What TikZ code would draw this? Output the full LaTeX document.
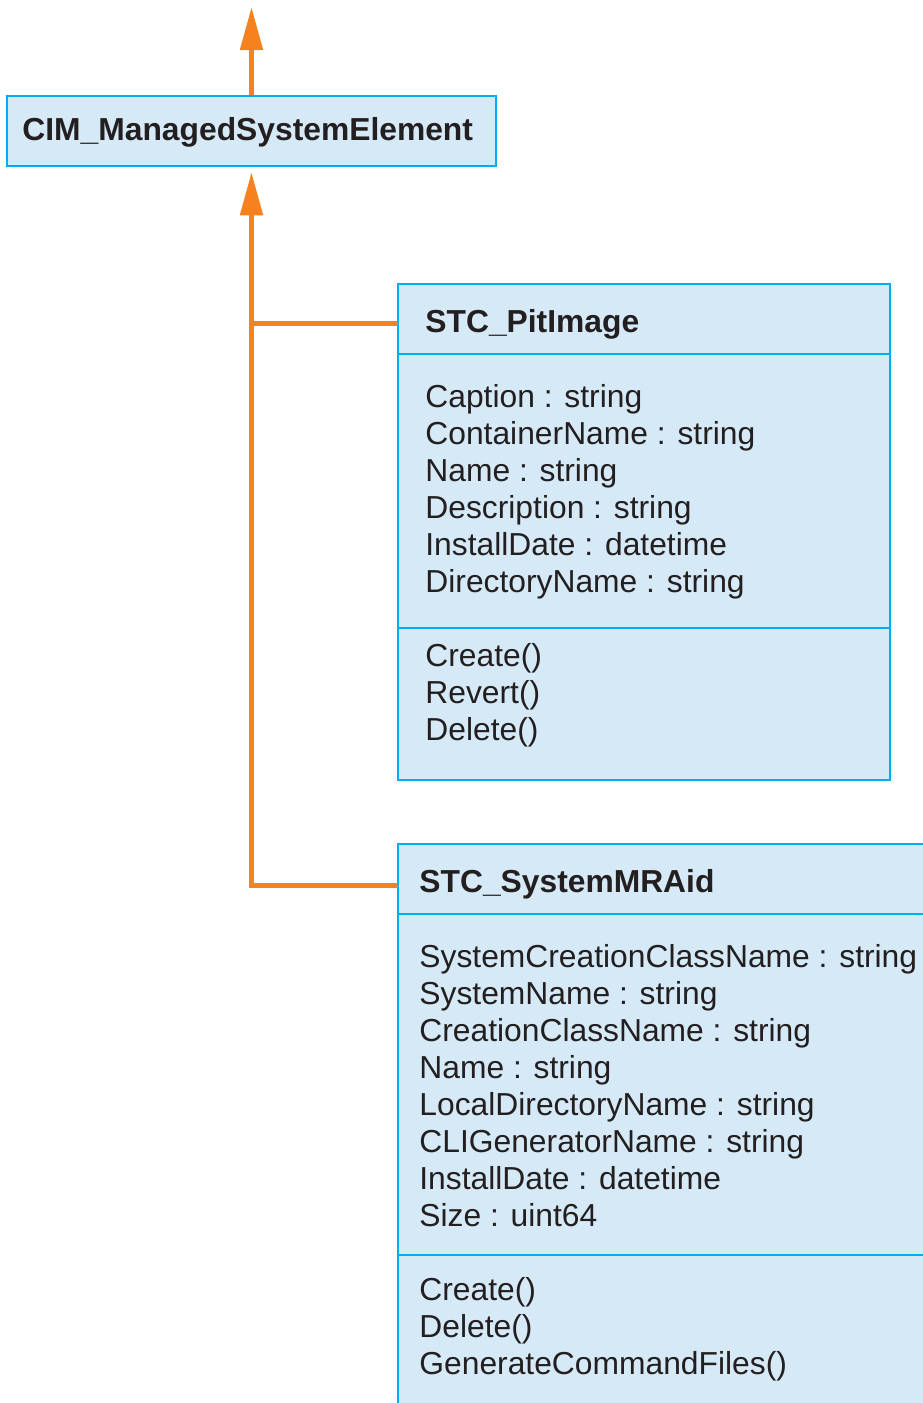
\documentclass[tikz,border=0pt]{standalone}
\usepackage{fontspec}
\setmainfont{Liberation Sans}
\usepackage{tikz}
\usetikzlibrary{positioning,arrows.meta}

\definecolor{umlorange}{HTML}{F5821F}
\definecolor{umlcyan}{HTML}{00AEEF}
\definecolor{umlfill}{HTML}{D6E9F6}
\definecolor{umltext}{HTML}{231F20}

\begin{document}
\begin{tikzpicture}[x=0.5pt, y=-0.5pt,
	cls/.style= {draw=umlcyan, fill=umlfill, line width=1.25pt, inner sep=0pt},
	divider/.style= {draw=umlcyan, line width=1.25pt},
	gen/.style= {draw=umlorange, line width=2.5pt, -{Triangle[length=21.5pt, width=11pt]}},
	link/.style= {draw=umlorange, line width=2.5pt},
	title/.style= {font=\fontsize{15.9}{18.5}\selectfont\bfseries, text=umltext, inner sep=0pt, anchor=base west},
	member/.style= {font=\fontsize{15.9}{18.5}\selectfont, text=umltext, inner sep=0pt, anchor=base west}]
		\useasboundingbox (0,0) rectangle (922,1403);

		% classes
		\node[cls, minimum width=244.5pt, minimum height=35pt] (cim) at (251.5,131) {};
		\node[cls, minimum width=246pt, minimum height=248pt] (pit) at (644,532) {};
		\node[cls, minimum width=281pt, minimum height=303pt] (mr) at (679,1147) {};

		\draw[divider] (pit.west |- 0,354) -- (pit.east |- 0,354);
		\draw[divider] (pit.west |- 0,628) -- (pit.east |- 0,628);
		\draw[divider] (mr.west |- 0,914) -- (mr.east |- 0,914);
		\draw[divider] (mr.west |- 0,1255) -- (mr.east |- 0,1255);

		% titles
		\node[title] (cimname) at (22,140) {CIM\_ManagedSystemElement};
		\node[title] (pitname) at (425,332) {STC\_PitImage};
		\node[title] (mrname) at (419,892) {STC\_SystemMRAid};

		% members
		\foreach \t [count=\i from 0] in {Caption : string, ContainerName : string, Name : string, Description : string, InstallDate : datetime, DirectoryName : string}
			\node[member] (pa\i) at (425,407+37*\i) {\t};
		\foreach \t [count=\i from 0] in {Create(), Revert(), Delete()}
			\node[member] (pm\i) at (425,666+37*\i) {\t};
		\foreach \t [count=\i from 0] in {SystemCreationClassName : string, SystemName : string, CreationClassName : string, Name : string, LocalDirectoryName : string, CLIGeneratorName : string, InstallDate : datetime, Size : uint64}
			\node[member] (ma\i) at (419,967+37*\i) {\t};
		\foreach \t [count=\i from 0] in {Create(), Delete(), GenerateCommandFiles()}
			\node[member] (mm\i) at (419,1300+37*\i) {\t};

		% inheritance
		\coordinate (top) at (251.5,7);
		\coordinate (pj) at (398,323);
		\coordinate (mj) at (398,885);

		\draw[gen] (cim.north) -- (top);
		\draw[gen, shorten >=2.5pt] (mj) -| (cim.south);
		\draw[link] (pj) -- (pj -| cim.south);
\end{tikzpicture}
\end{document}
